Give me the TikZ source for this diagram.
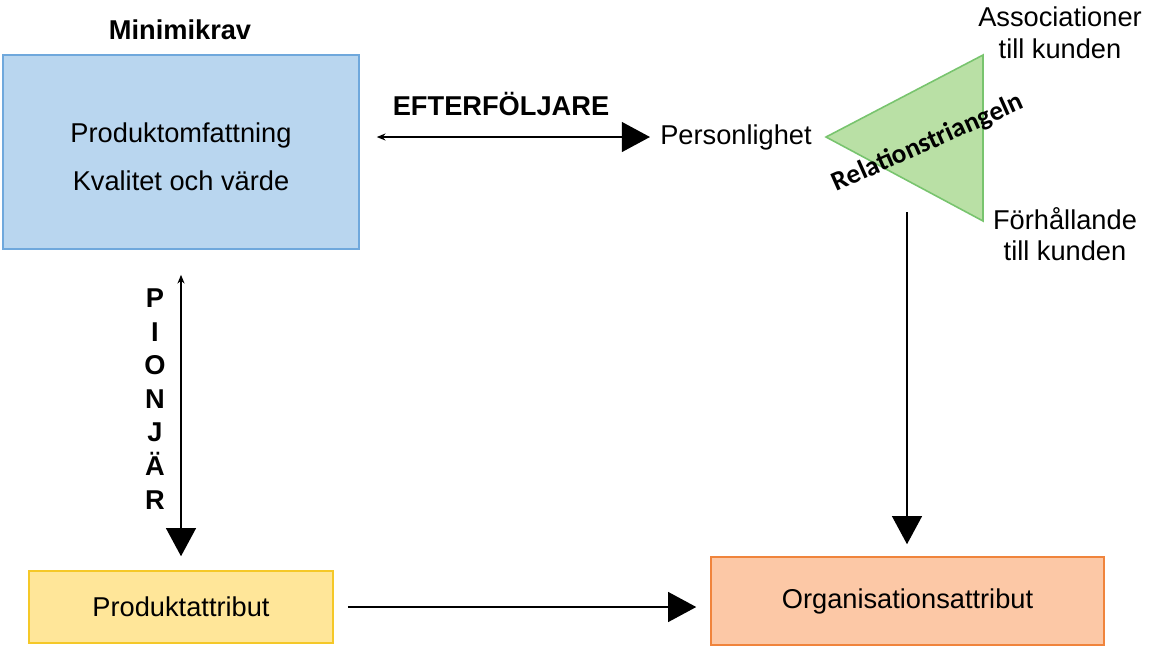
\documentclass[tikz,border=0pt]{standalone}
\usepackage{fontspec}
\setmainfont{Liberation Sans}
\newfontfamily\carlito{Carlito}
\usetikzlibrary{arrows.meta,positioning}
\definecolor{boxblue}{RGB}{185,214,239}
\definecolor{edgeblue}{RGB}{111,168,220}
\definecolor{boxyellow}{RGB}{255,230,153}
\definecolor{edgeyellow}{RGB}{245,200,40}
\definecolor{boxorange}{RGB}{252,200,166}
\definecolor{edgeorange}{RGB}{240,132,60}
\definecolor{trigreen}{RGB}{185,224,165}
\definecolor{edgegreen}{RGB}{120,196,110}
\begin{document}
\begin{tikzpicture}[x=0.02cm,y=-0.02cm,
  txt/.style={inner sep=0pt,align=center,font=\fontsize{15.5}{17}\selectfont},
  bold/.style={inner sep=0pt,align=center,font=\fontsize{15.5}{17}\selectfont\bfseries},
  box/.style={draw,line width=0.9pt,inner sep=0pt,txt},
  link/.style={line width=0.9pt,-{Triangle[length=16pt,width=17pt]}},
  both/.style={line width=0.9pt,{Stealth[length=5pt,width=4pt]}-{Triangle[length=16pt,width=17pt]}}]
\useasboundingbox (0,0) rectangle (1155,647);
% boxes
\node[box,fill=boxblue,draw=edgeblue,minimum width=7.12cm,minimum height=3.88cm,
  label={[txt,font=\fontsize{15.5}{27.2}\selectfont,yshift=-0.1cm]center:Produktomfattning\\Kvalitet och värde}] (blue) at (181,152) {};
\node[box,fill=boxyellow,draw=edgeyellow,minimum width=6.08cm,minimum height=1.44cm] (prod) at (181,607) {Produktattribut};
\node[box,fill=boxorange,draw=edgeorange,minimum width=7.86cm,minimum height=1.76cm] (org) at (907.5,601) {Organisationsattribut};
% labels
\node[bold] (mini) at (180,30) {Minimikrav};
\node[bold] (eft) at (501,104) {EFTERFÖLJARE};
\node[txt] (pers) at (736,137) {Personlighet};
\node[bold,font=\fontsize{15.5}{19.1}\selectfont\bfseries] (pion) at (155,399) {P\\I\\O\\N\\J\\Ä\\R};
% triangle
\coordinate (tl) at (826,137);
\coordinate (tt) at (983,55);
\coordinate (tb) at (983,221);
\draw[fill=trigreen,draw=edgegreen,line width=0.9pt] (tl) -- (tt) -- (tb) -- cycle;
\node[inner sep=0pt,rotate=24,font=\carlito\fontsize{15.5}{17}\selectfont\bfseries] (rel) at (928,143) {Relationstriangeln};
\node[txt,font=\fontsize{15.5}{18}\selectfont] (asso) at (1060,33) {Associationer\\till kunden};
\node[txt,font=\fontsize{15.5}{18}\selectfont] (forh) at (1065,234) {Förhållande\\till kunden};
\coordinate (tribase) at (907,212);
% arrows
\draw[both,shorten <=0.34cm,shorten >=0.2cm] (blue.east |- pers.west) -- (pers.west);
\draw[both,shorten <=0.5cm,shorten >=0.28cm] (blue.south) -- (prod.north);
\draw[link,shorten <=0.28cm,shorten >=0.28cm] (prod.east) -- (org.west |- prod.east);
\draw[link,shorten >=0.24cm] (tribase) -- (org.north -| tribase);
\end{tikzpicture}
\end{document}
